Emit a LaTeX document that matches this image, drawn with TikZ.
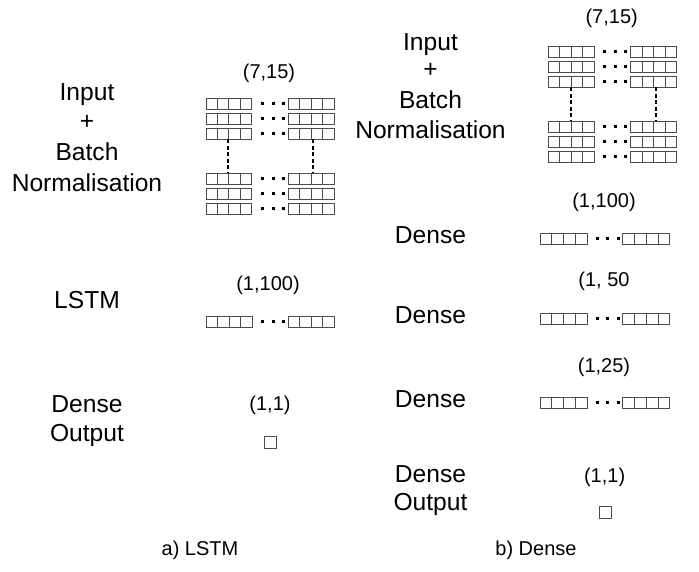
\documentclass[tikz,border=0pt]{standalone}
\usepackage{fontspec}
\setmainfont{Liberation Sans}
\tikzset{
  cell/.style={draw=black!70, line width=0.9pt},
  dotc/.style={fill=black},
  dashline/.style={draw=black, line width=1.5pt, dash pattern=on 4pt off 2.5pt},
  lbl/.style={font=\fontsize{24.6}{29}\selectfont, anchor=base, inner sep=0pt},
  dim/.style={font=\fontsize{20}{24}\selectfont, anchor=base, inner sep=0pt},
  captext/.style={font=\fontsize{20}{24}\selectfont, anchor=base, inner sep=0pt},
}
% #1 left x, #2 top y, #3 right block start x, #4 cell width
\newcommand{\cellrow}[4]{%
  \foreach \k in {0,...,3}{%
    \draw[cell] ({#1+\k*#4},#2) rectangle ++(#4,11);
    \draw[cell] ({#3+\k*#4},#2) rectangle ++(#4,11);
  }
  \foreach \k in {0,1,2}{%
    \fill[dotc] ({#3-6-10.5*\k},{#2+4}) rectangle ++(3,3);
  }
}
\begin{document}
\begin{tikzpicture}[x=1pt,y=-1pt]
\useasboundingbox (0,0) rectangle (699,571);
% ---------------- left panel (LSTM) ----------------
\node[lbl] (lin) at (87,100.8) {Input};
\node[lbl] (lplus) at (87,129.5) {+};
\node[lbl] (lbatch) at (87,160.8) {Batch};
\node[lbl] (lnorm) at (87,191.8) {Normalisation};
\node[lbl] (llstm) at (87,308.8) {LSTM};
\node[lbl] (ldense) at (87,412) {Dense};
\node[lbl] (lout) at (87,441) {Output};

\node[dim] (ld1) at (269,78.7) {(7,15)};
\foreach \yy in {98,113,128,173,188,203}{\cellrow{206}{\yy}{288.4}{11.4}}
\draw[dashline] (228,139) -- (228,173);
\draw[dashline] (313,139) -- (313,173);

\node[dim] (ld2) at (268,290.7) {(1,100)};
\cellrow{206}{316}{288.4}{11.5}

\node[dim] (ld3) at (270,410) {(1,1)};
\draw[cell] (264,436.5) rectangle ++(12,12);

\node[captext] (capa) at (200,555) {a) LSTM};

% ---------------- right panel (Dense) ----------------
\node[lbl] (rin) at (430.5,50.3) {Input};
\node[lbl] (rplus) at (430.5,77.5) {+};
\node[lbl] (rbatch) at (430.5,108.8) {Batch};
\node[lbl] (rnorm) at (430.5,138.8) {Normalisation};
\node[lbl] (rd1) at (430.5,243.8) {Dense};
\node[lbl] (rd2) at (430.5,323) {Dense};
\node[lbl] (rd3) at (430.5,407) {Dense};
\node[lbl] (rd4) at (430.5,482) {Dense};
\node[lbl] (rout) at (430.5,510.5) {Output};

\node[dim] (rs1) at (611.7,23) {(7,15)};
\foreach \yy in {46,61,76,121,136,151}{\cellrow{548}{\yy}{630.4}{11.6}}
\draw[dashline] (571,87) -- (571,121);
\draw[dashline] (656,87) -- (656,121);

\node[dim] (rs2) at (604,207) {(1,100)};
\cellrow{540}{233}{622.7}{11.8}
\node[dim] (rs3) at (604,286) {(1, 50};
\cellrow{540}{313}{622.7}{11.8}
\node[dim] (rs4) at (604,372) {(1,25)};
\cellrow{540}{397}{622.7}{11.8}
\node[dim] (rs5) at (604.6,482) {(1,1)};
\draw[cell] (599.5,506) rectangle ++(12,12);

\node[captext] (capb) at (536,555) {b) Dense};
\end{tikzpicture}
\end{document}
